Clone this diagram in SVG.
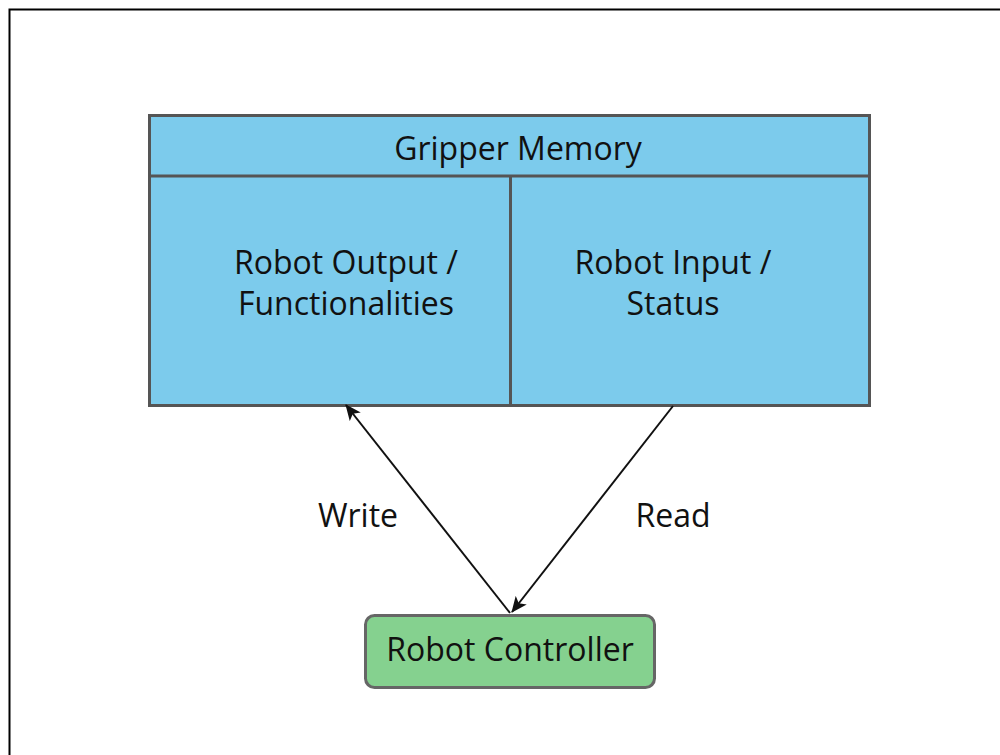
<svg xmlns="http://www.w3.org/2000/svg" width="1000" height="755" viewBox="0 0 1000 755">
<defs>
<style>
.t{font-family:"Open Sans","Liberation Sans",sans-serif;font-size:32px;fill:#111;text-anchor:middle}
.cell{fill:#7ccbec;stroke:#555;stroke-width:3}
.ln{stroke:#111;stroke-width:2;fill:none}
</style>
<marker id="ah" viewBox="0 0 16 14" refX="15" refY="7" markerWidth="16" markerHeight="14" markerUnits="userSpaceOnUse" orient="auto">
<path d="M0,0 L16,7 L0,14 L4,7 Z" fill="#111"/>
</marker>
</defs>
<rect width="1000" height="755" fill="#fff"/>
<path d="M9.5,755 L9.5,9.5 L1000,9.5" stroke="#000" stroke-width="2" fill="none"/>
<g id="gripper-memory">
<rect class="cell" x="149.5" y="115.5" width="720" height="290"/>
<line x1="149.5" y1="176" x2="869.5" y2="176" stroke="#555" stroke-width="3"/>
<text class="t" x="518" y="160">Gripper Memory</text>
</g>
<g id="robot-output">
<line x1="510.5" y1="176" x2="510.5" y2="405" stroke="#555" stroke-width="3"/>
<text class="t" x="346" y="274">Robot Output /</text>
<text class="t" x="346" y="315">Functionalities</text>
</g>
<g id="robot-input">
<text class="t" x="673" y="274">Robot Input /</text>
<text class="t" x="673" y="315">Status</text>
</g>
<g id="robot-controller">
<rect x="365.5" y="615.5" width="289" height="72" rx="9" fill="#85d18f" stroke="#666" stroke-width="3"/>
<text class="t" x="510" y="661">Robot Controller</text>
</g>
<g id="connectors">
<line class="ln" x1="510" y1="613" x2="346" y2="405" marker-end="url(#ah)"/>
<line class="ln" x1="673" y1="406" x2="512" y2="612" marker-end="url(#ah)"/>
<text class="t" x="358" y="527">Write</text>
<text class="t" x="673" y="527">Read</text>
</g>
</svg>
